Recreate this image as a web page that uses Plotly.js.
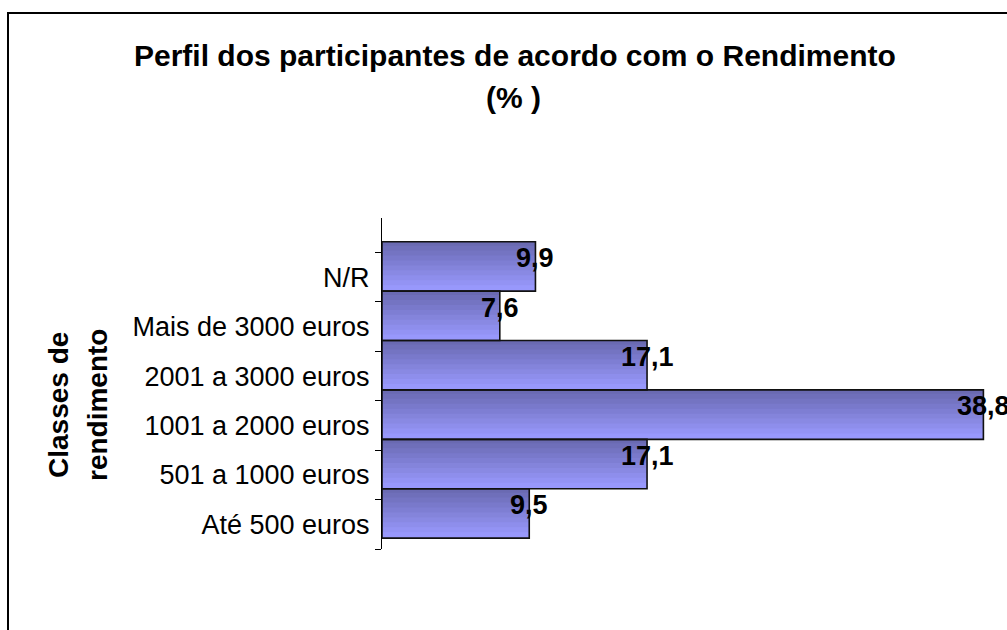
<!DOCTYPE html>
<html>
<head>
<meta charset="utf-8">
<script src="https://cdn.plot.ly/plotly-3.0.1.min.js"></script>
<style>
html,body{margin:0;padding:0;background:#fff;}
#chart{width:1007px;height:630px;}
</style>
</head>
<body>
<div id="chart"></div>
<script>
// ---- data ----
const categories = ["Até 500 euros", "501 a 1000 euros", "1001 a 2000 euros", "2001 a 3000 euros", "Mais de 3000 euros", "N/R"];
const values = [9.5, 17.1, 38.8, 17.1, 7.6, 9.9];
const titleLines = ["Perfil dos participantes de acordo com o Rendimento", "(% )"];
const yTitleLines = ["Classes de", "rendimento"];

// ---- style ----
const FONT = "'Liberation Sans', Arial, Helvetica, sans-serif";
const BAR_OFFSET = -0.28, BAR_WIDTH = 1.0, N_STRIPES = 10;
const colTop = [106, 106, 178], colBottom = [152, 152, 252];
const M = {l: 382, r: 5, t: 218, b: 81};
const W = 1007, H = 630;
const pw = W - M.l - M.r, ph = H - M.t - M.b;

const traces = [];
for (let k = 0; k < N_STRIPES; k++) {
  const f = k / (N_STRIPES - 1);
  const c = colBottom.map((v, i) => Math.round(v + (colTop[i] - v) * f));
  const extra = (k < N_STRIPES - 1) ? 0.02 : 0;
  traces.push({
    type: 'bar', orientation: 'h',
    x: values, y: categories,
    offset: BAR_OFFSET + k * BAR_WIDTH / N_STRIPES,
    width: BAR_WIDTH / N_STRIPES + extra,
    marker: {color: `rgb(${c[0]},${c[1]},${c[2]})`, line: {width: 0}},
    hoverinfo: 'skip', showlegend: false
  });
}
// reverse so lower stripes (with overlap) sit over upper ones without seams
traces.reverse();
traces.push({
  type: 'bar', orientation: 'h',
  x: values, y: categories,
  offset: BAR_OFFSET, width: BAR_WIDTH,
  marker: {color: 'rgba(0,0,0,0)', line: {color: '#111', width: 1.6}},
  hoverinfo: 'skip', showlegend: false
});

const annotations = values.map((v, i) => ({
  x: v, y: categories[i], xref: 'x', yref: 'y',
  text: v.toFixed(1).replace('.', ','),
  showarrow: false, xanchor: 'center', yanchor: 'middle', yshift: 19,
  font: {family: FONT, size: 27, color: '#000', weight: 'bold'}
}));
const px2x = p => (p - M.l) / pw;
const py2y = p => (M.t + ph - p) / ph;
annotations.push({xref: 'paper', yref: 'paper', x: px2x(515), y: py2y(55), text: '<b>' + titleLines[0] + '</b>',
  showarrow: false, xanchor: 'center', yanchor: 'middle', font: {family: FONT, size: 30, color: '#000'}});
annotations.push({xref: 'paper', yref: 'paper', x: px2x(513), y: py2y(97), text: '<b>' + titleLines[1] + '</b>',
  showarrow: false, xanchor: 'center', yanchor: 'middle', font: {family: FONT, size: 30, color: '#000'}});
annotations.push({xref: 'paper', yref: 'paper', x: px2x(58), y: py2y(405), text: '<b>' + yTitleLines[0] + '</b>',
  showarrow: false, xanchor: 'center', yanchor: 'middle', textangle: -90, font: {family: FONT, size: 28, color: '#000'}});
annotations.push({xref: 'paper', yref: 'paper', x: px2x(97), y: py2y(405), text: '<b>' + yTitleLines[1] + '</b>',
  showarrow: false, xanchor: 'center', yanchor: 'middle', textangle: -90, font: {family: FONT, size: 28, color: '#000'}});

const layout = {
  width: W, height: H,
  margin: M,
  paper_bgcolor: '#fff', plot_bgcolor: '#fff',
  barmode: 'overlay',
  font: {family: FONT, color: '#000'},
  xaxis: {range: [0, 40], showline: false, showgrid: false, zeroline: false, showticklabels: false, ticks: '', fixedrange: true},
  yaxis: {
    type: 'category', categoryorder: 'array', categoryarray: categories,
    range: [-0.5, 6.2],
    showline: true, linecolor: '#000', linewidth: 1,
    ticks: 'outside', tickson: 'boundaries', ticklen: 6, tickcolor: '#000', tickwidth: 1,
    showgrid: false, zeroline: false,
    tickfont: {family: FONT, size: 27, color: '#000'},
    ticklabelstandoff: 6
  },
  annotations: annotations,
  shapes: [{
    type: 'rect', xref: 'paper', yref: 'paper',
    x0: px2x(8), y0: py2y(H + 40), x1: px2x(W + 40), y1: py2y(13),
    line: {color: '#000', width: 2}, fillcolor: 'rgba(0,0,0,0)', layer: 'below'
  }]
};

Plotly.newPlot('chart', traces, layout, {staticPlot: true, displayModeBar: false});
</script>
</body>
</html>
